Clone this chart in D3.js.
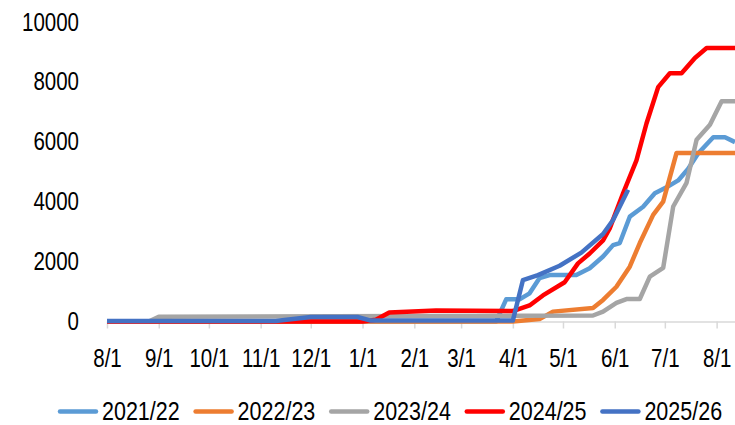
<!DOCTYPE html>
<html>
<head>
<meta charset="utf-8">
<script src="https://cdn.jsdelivr.net/npm/d3@7"></script>
<style>
  html, body { margin: 0; padding: 0; background: #fff; }
  svg { display: block; font-family: "Liberation Sans", Arial, sans-serif; }
</style>
</head>
<body>
<div id="chartContainer"></div>
<script>
// Season labels and colours
const seasons = ["2021/22", "2022/23", "2023/24", "2024/25", "2025/26"];
const colors = ["#5B9BD5", "#ED7D31", "#A5A5A5", "#FF0000", "#4472C4"];

// Tick labels for the x axis (month starts, Aug to Aug)
const tickLabels = ["8/1", "9/1", "10/1", "11/1", "12/1", "1/1", "2/1", "3/1", "4/1", "5/1", "6/1", "7/1", "8/1"];
const yTicks = [0, 2000, 4000, 6000, 8000, 10000];

// Series values (m/d within the season, value)
const dates2122 = ["8/1", "3/22", "3/28", "4/5", "4/11", "4/17", "4/23", "5/9", "5/17", "5/25", "5/31", "6/4", "6/10", "6/18", "6/25", "7/2", "7/9", "7/15", "7/21", "7/30", "8/6", "8/12"];
const vals2122  = [0, 0, 740, 740, 940, 1450, 1550, 1550, 1780, 2170, 2550, 2620, 3500, 3830, 4280, 4480, 4710, 5100, 5620, 6150, 6150, 5990];

const dates2223 = ["8/1", "4/1", "4/17", "4/25", "5/19", "5/25", "6/2", "6/10", "6/16", "6/24", "6/30", "7/8", "8/12"];
const vals2223  = [0, 0, 80, 330, 450, 720, 1160, 1830, 2620, 3560, 4000, 5630, 5630];

const dates2324 = ["8/1", "8/26", "9/1", "2/1", "5/19", "5/25", "6/2", "6/8", "6/16", "6/22", "6/30", "7/6", "7/14", "7/20", "7/28", "8/4", "8/12"];
const vals2324  = [0, 0, 160, 180, 200, 330, 620, 750, 750, 1500, 1790, 3840, 4630, 6070, 6570, 7350, 7350];

const dates2425 = ["8/1", "1/1", "1/9", "1/17", "2/14", "4/1", "4/11", "4/19", "5/2", "5/10", "5/17", "5/25", "5/29", "6/6", "6/14", "6/20", "6/27", "7/4", "7/11", "7/19", "7/26", "8/12"];
const vals2425  = [0, 0, 60, 300, 370, 350, 535, 870, 1310, 1940, 2270, 2710, 3110, 4280, 5380, 6610, 7825, 8290, 8290, 8800, 9130, 9130];

const dates2526 = ["8/1", "11/10", "12/1", "12/29", "1/6", "4/1", "4/7", "4/16", "4/29", "5/12", "5/25", "5/31", "6/9"];
const vals2526  = [20, 20, 150, 150, 30, 30, 1380, 1550, 1860, 2300, 2920, 3390, 4400];

const seriesDates = [dates2122, dates2223, dates2324, dates2425, dates2526];
const seriesVals = [vals2122, vals2223, vals2324, vals2425, vals2526];

// m/d list -> dates inside one Aug..Aug season (Aug after Jan goes to the next year)
function seasonDates(list) {
  let wrapped = false;
  return list.map(md => {
    const [m, d] = md.split("/").map(Number);
    if (m < 8) wrapped = true;
    return new Date(m >= 8 && !wrapped ? 2022 : 2023, m - 1, d);
  });
}

// squeeze text horizontally (reference uses a narrow font)
function squeeze(sel, k) {
  sel.each(function() {
    const w = this.getComputedTextLength();
    d3.select(this).attr("textLength", w * k).attr("lengthAdjust", "spacingAndGlyphs");
  });
}

function draw() {
  const width = 735;
  const height = 425;

  const x = d3.scaleTime([new Date(2022, 7, 1), new Date(2023, 7, 12)], [107, 735]);
  const y = d3.scaleLinear([0, 10000], [321.5, 22]);

  const svg = d3.create("svg")
    .attr("width", width)
    .attr("height", height)
    .attr("viewBox", [0, 0, width, height]);

  document.getElementById("chartContainer").append(svg.node());

  // x axis: light grey line with month ticks
  const tickDates = seasonDates(tickLabels);
  svg.append("g")
    .attr("transform", `translate(0,${y(0)})`)
    .call(d3.axisBottom(x).tickValues(tickDates).tickSize(7).tickSizeOuter(0)
      .tickFormat((d, i) => tickLabels[i]))
    .call(g => g.select(".domain").attr("stroke", "#D9D9D9").attr("stroke-width", 1.5))
    .call(g => g.selectAll(".tick line").attr("stroke", "#D9D9D9").attr("stroke-width", 1.5))
    .call(g => g.selectAll(".tick text")
      .attr("y", 45).attr("dy", 0)
      .attr("font-size", 25).attr("fill", "#000")
      .attr("font-family", null)
      .call(squeeze, 0.82));

  // y axis: labels only
  svg.append("g")
    .attr("transform", `translate(107,0)`)
    .call(d3.axisLeft(y).tickValues(yTicks).tickSize(0).tickPadding(28).tickFormat(d3.format("d")))
    .call(g => g.select(".domain").remove())
    .call(g => g.selectAll(".tick text")
      .attr("font-size", 25).attr("fill", "#000")
      .attr("font-family", null)
      .call(squeeze, 0.82));

  const line = d3.line()
    .x(d => x(d.date))
    .y(d => y(d.value));

  seasons.forEach((s, i) => {
    const ds = seasonDates(seriesDates[i]);
    const data = ds.map((dt, j) => ({date: dt, value: seriesVals[i][j]}));
    svg.append("path")
      .attr("fill", "none")
      .attr("stroke", colors[i])
      .attr("stroke-width", 4.5)
      .attr("stroke-linejoin", "round")
      .attr("d", line(data));
  });

  // legend
  const legend = svg.append("g");
  seasons.forEach((s, i) => {
    const lx = 58 + i * 135.6;
    legend.append("line")
      .attr("x1", lx + 2).attr("x2", lx + 38)
      .attr("y1", 411.5).attr("y2", 411.5)
      .attr("stroke", colors[i])
      .attr("stroke-width", 4.5)
      .attr("stroke-linecap", "round");
    legend.append("text")
      .attr("x", lx + 44)
      .attr("y", 420)
      .attr("font-size", 25)
      .attr("fill", "#000")
      .text(s)
      .call(squeeze, 0.86);
  });
}

draw();
</script>
</body>
</html>
